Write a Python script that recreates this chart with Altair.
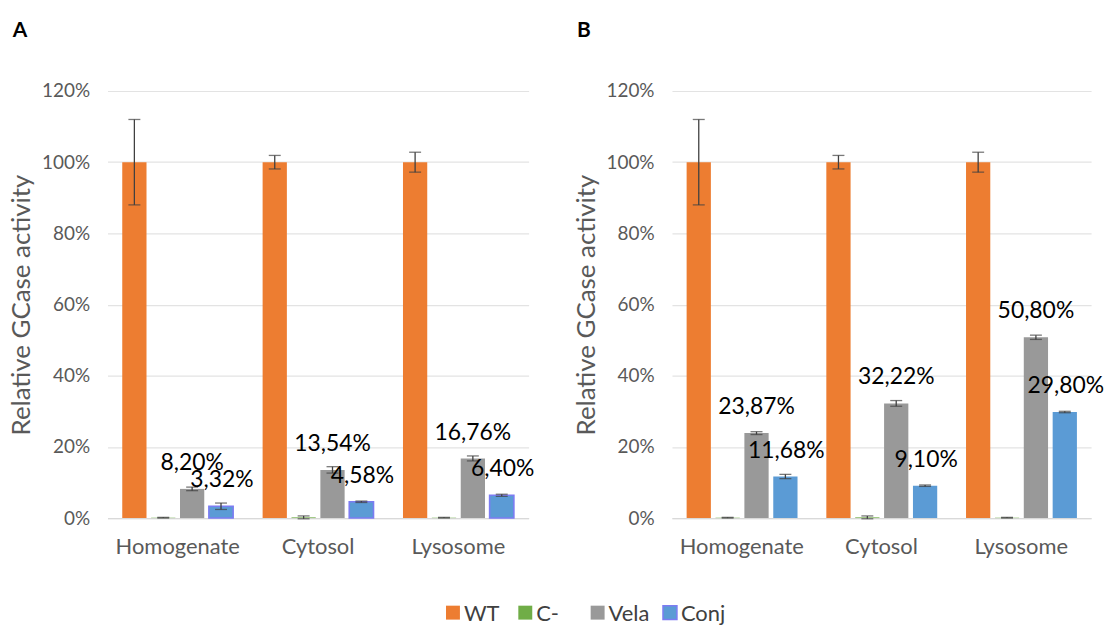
import altair as alt
import pandas as pd

categories = ["Homogenate", "Cytosol", "Lysosome"]
series = ["WT", "C-", "Vela", "Conj"]
colors = ["#ED7D31", "#70AD47", "#999999", "#5B9BD5"]
conj_outline = ["transparent", "transparent", "transparent", "#7C7CF2"]

# Panel A values (%), per series across categories
a_wt = [100.0, 100.0, 100.0]
a_cneg = [0.1, 0.2, 0.1]
a_vela = [8.20, 13.54, 16.76]
a_conj = [3.32, 4.58, 6.40]
a_wt_err = [12.0, 1.9, 2.8]
a_cneg_err = [0.1, 0.4, 0.1]
a_vela_err = [0.5, 0.9, 0.7]
a_conj_err = [0.9, 0.2, 0.3]

# Panel B values (%)
b_wt = [100.0, 100.0, 100.0]
b_cneg = [0.1, 0.2, 0.1]
b_vela = [23.87, 32.22, 50.80]
b_conj = [11.68, 9.10, 29.80]
b_wt_err = [12.0, 1.9, 2.8]
b_cneg_err = [0.1, 0.4, 0.1]
b_vela_err = [0.4, 0.8, 0.6]
b_conj_err = [0.6, 0.2, 0.2]

FONT = "Lato"

color_scale = alt.Scale(domain=series, range=colors)
stroke_scale = alt.Scale(domain=series, range=conj_outline)


def build(vals, errs):
    rows = []
    for s, v, e in zip(series, vals, errs):
        for c, m, er in zip(categories, v, e):
            lab = (f"{m:.2f}".replace(".", ",") + "%") if s in ("Vela", "Conj") else ""
            rows.append(dict(category=c, series=s, mean=m, lo=m - er, hi=m + er, label=lab))
    return pd.DataFrame(rows)


df_a = build([a_wt, a_cneg, a_vela, a_conj], [a_wt_err, a_cneg_err, a_vela_err, a_conj_err])
df_b = build([b_wt, b_cneg, b_vela, b_conj], [b_wt_err, b_cneg_err, b_vela_err, b_conj_err])


def panel(df, letter, stroke_w, w):
    base = alt.Chart(df).encode(
        x=alt.X("category:N", sort=categories,
                scale=alt.Scale(paddingInner=0.21, paddingOuter=0.105),
                axis=alt.Axis(title=None, labelAngle=0, ticks=False, domain=True,
                              domainColor="#D9D9D9", domainWidth=1.2,
                              labelFontSize=22, labelColor="#595959", labelPadding=19,
                              labelFont=FONT)),
        xOffset=alt.XOffset("series:N", sort=series,
                            scale=alt.Scale(domain=series, paddingInner=0.16, paddingOuter=0)),
    )
    yenc = alt.Y("mean:Q", scale=alt.Scale(domain=[0, 120], nice=False),
                 axis=alt.Axis(values=[0, 20, 40, 60, 80, 100, 120],
                               labelExpr="datum.value + '%'",
                               title="Relative GCase activity", titleFont=FONT,
                               titleFontSize=26, titleFontWeight="normal",
                               titleColor="#595959", titlePadding=7,
                               labelFont=FONT, labelFontSize=19, labelColor="#595959",
                               labelPadding=18, ticks=False, domain=False,
                               gridColor="#E3E3E3", gridWidth=1.2))
    bars = base.mark_bar(strokeWidth=stroke_w).encode(
        y=yenc,
        color=alt.Color("series:N", scale=color_scale, legend=None),
        stroke=alt.Stroke("series:N", scale=stroke_scale, legend=None),
    )
    rule = base.mark_rule(color="#404040", strokeWidth=1.3).encode(
        y="lo:Q", y2="hi:Q")
    cap_lo = base.mark_tick(color="#404040", size=12, thickness=1.3).encode(y="lo:Q")
    cap_hi = base.mark_tick(color="#404040", size=12, thickness=1.3).encode(y="hi:Q")
    lab_vela = base.transform_filter(alt.datum.series == "Vela").mark_text(
        font=FONT, fontSize=23, color="#000000", baseline="alphabetic", dy=-19
    ).encode(y="mean:Q", text="label:N")
    lab_conj = base.transform_filter(alt.datum.series == "Conj").mark_text(
        font=FONT, fontSize=23, color="#000000", baseline="alphabetic", dy=-19, dx=1
    ).encode(y="mean:Q", text="label:N")
    return alt.layer(bars, rule, cap_lo, cap_hi, lab_vela, lab_conj).properties(
        width=w, height=429,
        title=alt.TitleParams(text=letter, anchor="start", frame="bounds", fontSize=21,
                              fontWeight="bold", font=FONT, color="#000000", offset=41,
                              dx=4),
    )


# Legend drawn as its own small chart below the two panels
legend_df = pd.DataFrame({"series": series})
leg_x = alt.X("series:N", sort=series, axis=None,
              scale=alt.Scale(type="point", domain=series, range=[347, 565], padding=0))
leg_sym = alt.Chart(legend_df).mark_square(size=196, strokeWidth=1.5).encode(
    x=leg_x,
    y=alt.value(10),
    color=alt.Color("series:N", scale=color_scale, legend=None),
    stroke=alt.Stroke("series:N", scale=stroke_scale, legend=None),
    opacity=alt.value(1),
)
leg_txt = alt.Chart(legend_df).mark_text(
    align="left", baseline="middle", dx=11, font=FONT, fontSize=22, color="#404040"
).encode(x=leg_x, y=alt.value(11), text="series:N")
legend_chart = alt.layer(leg_sym, leg_txt).properties(width=620, height=20)

top = alt.hconcat(panel(df_a, "A", 1.6, 423), panel(df_b, "B", 0, 421), spacing=38)

chart = alt.vconcat(top, legend_chart, spacing=45).resolve_scale(
    color="shared", stroke="shared"
).properties(padding={"left": 8, "top": 19, "right": 0, "bottom": 0}).configure(
    font=FONT, background="white", view=alt.ViewConfig(stroke=None)
)

chart.save("out.html", embed_options={"renderer": "svg", "actions": False})
